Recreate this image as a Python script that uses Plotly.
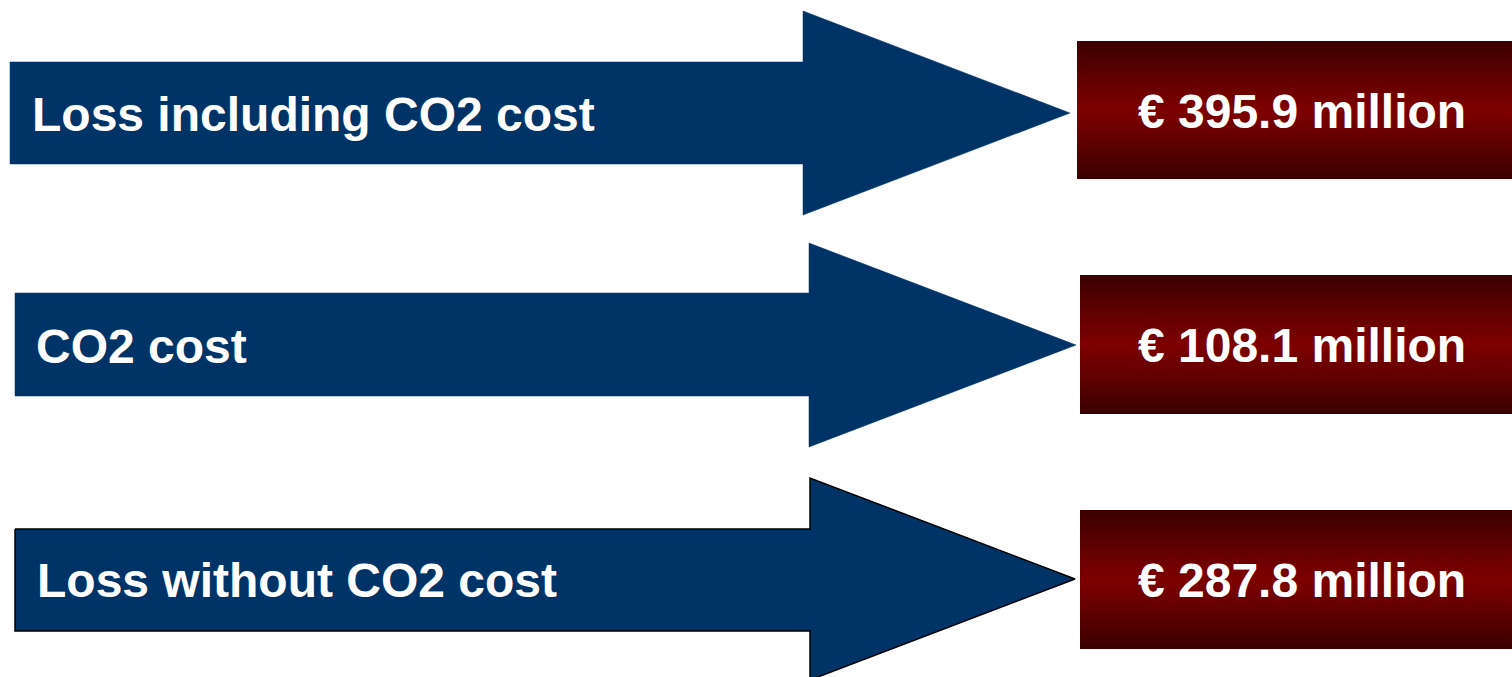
import plotly.graph_objects as go

# Row content
labels = ["Loss including CO2 cost", "CO2 cost", "Loss without CO2 cost"]
values = [395.9, 108.1, 287.8]
value_texts = [f"€ {v:.1f} million" for v in values]

# Row geometry (pixel space, y grows downward)
shaft_left = [10, 15, 15]
shaft_top = [62, 293, 529]
shaft_bottom = [164, 396, 631]
head_base = [803, 809, 810]
head_top = [11, 243, 478]
head_bottom = [215, 447, 680]
tip_x = [1070, 1076, 1075]
tip_y = [113, 345, 579]
arrow_outline = [0, 0, 1.5]
label_x = [30, 34, 35]

box_left = [1077, 1080, 1080]
box_top = [41, 275, 510]
box_bottom = [179, 414, 649]
box_right = 1512
value_x = 1302

W, H = 1512, 677
NAVY = "#003366"
FONT = "Liberation Sans, Arial, sans-serif"
FONT_SIZE = 48

fig = go.Figure()

for i in range(len(labels)):
    xs = [shaft_left[i], head_base[i], head_base[i], tip_x[i],
          head_base[i], head_base[i], shaft_left[i], shaft_left[i]]
    ys = [shaft_top[i], shaft_top[i], head_top[i], tip_y[i],
          head_bottom[i], shaft_bottom[i], shaft_bottom[i], shaft_top[i]]
    fig.add_trace(go.Scatter(
        x=xs, y=ys, mode="lines", fill="toself", fillcolor=NAVY,
        line=dict(color="#000000" if arrow_outline[i] else NAVY,
                  width=arrow_outline[i] if arrow_outline[i] else 0.5),
        hoverinfo="skip", showlegend=False,
    ))
    bx = [box_left[i], box_right, box_right, box_left[i], box_left[i]]
    by = [box_top[i], box_top[i], box_bottom[i], box_bottom[i], box_top[i]]
    fig.add_trace(go.Scatter(
        x=bx, y=by, mode="lines", fill="toself",
        fillgradient=dict(type="vertical",
                          colorscale=[[0, "#3a0000"], [0.3, "#650000"],
                                      [0.5, "#7e0000"], [0.7, "#650000"],
                                      [1, "#3a0000"]]),
        line=dict(width=0, color="rgba(0,0,0,0)"),
        hoverinfo="skip", showlegend=False,
    ))
    fig.add_annotation(
        x=label_x[i], y=tip_y[i] + 1, text=f"<b>{labels[i]}</b>",
        xanchor="left", yanchor="middle", showarrow=False,
        font=dict(family=FONT, size=FONT_SIZE, color="white"),
    )
    fig.add_annotation(
        x=value_x, y=(box_top[i] + box_bottom[i]) / 2 + 1,
        text=f"<b>{value_texts[i]}</b>",
        xanchor="center", yanchor="middle", showarrow=False,
        font=dict(family=FONT, size=FONT_SIZE, color="white"),
    )

fig.update_xaxes(range=[0, W], visible=False, fixedrange=True)
fig.update_yaxes(range=[H, 0], visible=False, fixedrange=True)
fig.update_layout(
    width=W, height=H,
    margin=dict(l=0, r=0, t=0, b=0),
    paper_bgcolor="white", plot_bgcolor="white",
)

fig.write_html("out.html", config={"displayModeBar": False})
